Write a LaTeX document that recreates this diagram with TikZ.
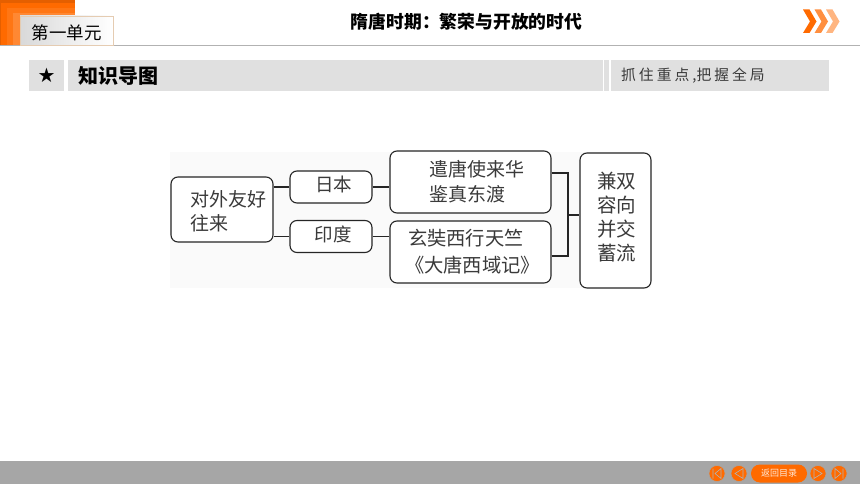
\documentclass[tikz,border=0pt]{standalone}
\usepackage{fontspec}
\setmainfont{Noto Sans CJK SC}
\newfontfamily\symfont{DejaVu Sans}
\usetikzlibrary{shapes.geometric}
\definecolor{barcol}{HTML}{E0E0E0}
\definecolor{inkcol}{HTML}{3A3A3A}
\definecolor{orangecol}{HTML}{FF6A00}
\newcommand{\gp}{\hspace{3pt}}
\tikzset{
	box/.style={draw=black!85,line width=1.1pt,rounded corners=7pt,fill=white,inner sep=0pt,text=inkcol,font=\fontsize{19}{24}\selectfont,align=left},
	link/.style={draw=black!85,line width=1.1pt},
	bar/.style={fill=barcol,draw=none,inner sep=0pt,minimum height=31pt},
	chev/.style={fill=#1,draw=none},
	navbtn/.style={circle,fill=orangecol,draw=black!35,line width=.5pt,minimum size=16pt,inner sep=0pt},
	navicon/.style={draw=black!30,line width=.6pt,fill=none}
}
\begin{document}
\begin{tikzpicture}[x=1pt,y=-1pt]
		\useasboundingbox (0,0) rectangle (860,484);
		\fill[white] (0,0) rectangle (860,484);
		
		% header
		\fill[orangecol!90!black] (0,0) rectangle (75,45);
		\fill[orangecol] (1,3) rectangle (75,45);
		\fill[orangecol!92!white] (7,8) rectangle (75,45);
		\fill[orangecol!80!white] (13,13) rectangle (75,45);
		\draw[line width=.8pt,color=black!30] (0,45.5) -- (860,45.5);
		\node[left color=black!15,right color=white,draw=brown!40,line width=.6pt,inner sep=0pt,minimum width=93pt,minimum height=29pt,text depth=0pt,text height=18pt,font=\fontsize{17.5}{17}\selectfont] (tab) at (66.5,30.5) {第一单元};
		\node[font=\fontsize{17.8}{18}\selectfont\bfseries] (title) at (466.5,22) {隋唐时期\symbol{"FF1A}繁荣与开放的时代};
		\foreach \X/\C in {803/orangecol,814.5/orangecol!75!white,826/orangecol!50!white}{
			\fill[chev=\C] (\X,9.5) -- ++(6.5,0) -- ++(7,12) -- ++(-7,11.5) -- ++(-6.5,0) -- ++(7,-11.5) -- cycle;
		}
		
		% bars
		\node[bar,minimum width=35pt,font=\symfont\fontsize{20}{20}\selectfont] (star) at (46.5,75.5) {★};
		\node[bar,minimum width=535pt] (zhishi) at (335.5,75.5) {};
		\node[font=\fontsize{20}{20}\selectfont\bfseries,anchor=west,inner sep=0pt] (zhishitext) at (78,76) {知识导图};
		\node[bar,minimum width=5pt] (sep) at (606.5,75.5) {};
		\node[bar,minimum width=218pt,anchor=west] (zhuazhu) at (611,75.5) {};
		\node[text=inkcol,font=\fontsize{14.8}{15}\selectfont,anchor=west,inner sep=0pt] (zhuazhutext) at (621,76) {抓\gp 住\gp 重\gp 点\gp ,把\gp 握\gp 全\gp 局};
		
		% chart
		\fill[black!2] (170,152) rectangle (651,288);
		\node[box,minimum width=102pt,minimum height=65pt,text width=64pt] (duiwai) at (222,209.5) {\rule{0pt}{20.5pt}对外友好\\往来};
		\node[box,minimum width=82pt,minimum height=32pt,align=center,font=\fontsize{18.5}{24}\selectfont,text height=14pt,text depth=4pt] (riben) at (331,187) {\hspace*{5pt}日本};
		\node[box,minimum width=82pt,minimum height=32pt,align=center,font=\fontsize{18.5}{24}\selectfont,text height=13pt,text depth=4pt] (yindu) at (331,236.5) {\hspace*{4pt}印度};
		\node[box,minimum width=161pt,minimum height=62pt,text width=83pt,font=\fontsize{19}{25}\selectfont] (qiantang) at (470.5,182) {遣唐使来华\\鉴真东渡};
		\node[box,minimum width=161pt,minimum height=62pt,text width=125pt,font=\fontsize{19.3}{27}\selectfont] (xuanzang) at (470.5,252) {玄奘西行天竺\\\hspace*{-3pt}《大唐西域记》};
		\node[box,minimum width=71pt,minimum height=135pt,align=center,text depth=9pt,font=\fontsize{19.5}{24}\selectfont] (jianrong) at (615.5,220.5) {\hspace*{2pt}兼双\\\hspace*{2pt}容向\\\hspace*{2pt}并交\\\hspace*{2pt}蓄流};
		
		\coordinate (joint) at (568,215);
		\draw[link] (duiwai.east |- riben.west) -- (riben.west);
		\draw[link] (duiwai.east |- yindu.west) -- (yindu.west);
		\draw[link] (riben.east) -- (qiantang.west |- riben.east);
		\draw[link] (yindu.east) -- (xuanzang.west |- yindu.east);
		\draw[link] (qiantang.east) ++(0,-9) -| (joint);
		\draw[link] (xuanzang.east) ++(0,4) -| (joint);
		\draw[link] (joint) -- (joint -| jianrong.west);
		
		% footer
		\fill[black!35] (0,460.5) rectangle (860,484);
		\node[navbtn] (first) at (717,473.5) {};
		\node[navbtn] (prev) at (739,473.5) {};
		\node[fill=orangecol,rounded corners=9pt,inner sep=0pt,minimum width=56pt,minimum height=18pt,text=white!85!orangecol,font=\fontsize{9}{9}\selectfont] (back) at (779,473.5) {返回目录};
		\node[navbtn] (next) at (818,473.5) {};
		\node[navbtn] (last) at (839,473.5) {};
		\draw[navicon] (713,468.5) -- (713,478.5) (721,468.5) -- (715,473.5) -- (721,478.5) -- cycle;
		\draw[navicon] (743,468.5) -- (735,473.5) -- (743,478.5) -- cycle;
		\draw[navicon] (814,468.5) -- (822,473.5) -- (814,478.5) -- cycle;
		\draw[navicon] (843,468.5) -- (843,478.5) (835,468.5) -- (841,473.5) -- (835,478.5) -- cycle;
\end{tikzpicture}
\end{document}
